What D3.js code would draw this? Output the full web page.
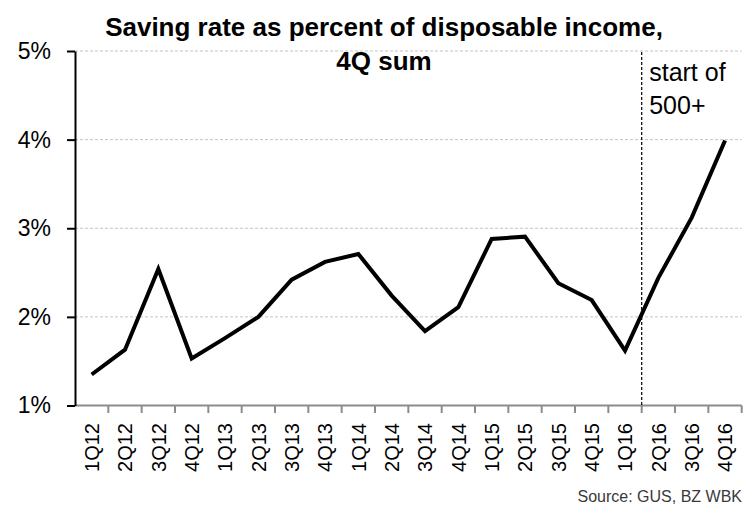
<!DOCTYPE html>
<html>
<head>
<meta charset="utf-8">
<script src="https://cdn.jsdelivr.net/npm/d3@7"></script>
<style>
  body { margin: 0; background: #fff; }
  svg { display: block; font-family: Arial, "Liberation Sans", sans-serif; }
</style>
</head>
<body>
<script>
// quarters on the x axis
const quarters = ['1Q12', '2Q12', '3Q12', '4Q12', '1Q13', '2Q13', '3Q13', '4Q13',
  '1Q14', '2Q14', '3Q14', '4Q14', '1Q15', '2Q15', '3Q15', '4Q15',
  '1Q16', '2Q16', '3Q16', '4Q16']
// saving rate, % of disposable income (4Q sum)
const savingRate = [1.35, 1.63, 2.54, 1.53, 1.76, 2.00, 2.42, 2.62,
  2.71, 2.24, 1.84, 2.11, 2.88, 2.905, 2.38, 2.19,
  1.62, 2.44, 3.12, 3.99]
const yTicks = [1, 2, 3, 4, 5]
const titleLines = ['Saving rate as percent of disposable income,', '4Q sum']
const markerAfter = '1Q16' // "500+" starts after this quarter
const noteLines = ['start of', '500+']
const source = 'Source: GUS, BZ WBK'

;(() => {
  const width = 747,
    height = 507

  const svg = d3.select('body').append('svg')
    .attr('width', width)
    .attr('height', height)

  // plot area
  const x = d3.scaleBand().domain(quarters).range([75, 741.7]).padding(0)
  const y = d3.scaleLinear().domain([1, 5]).range([405.5, 51])

  // dashed gridlines
  svg.selectAll('.grid')
    .data(yTicks.slice(1))
    .enter()
    .append('line')
    .attr('class', 'grid')
    .attr('x1', x.range()[0])
    .attr('x2', x.range()[1])
    .attr('y1', d => y(d))
    .attr('y2', d => y(d))
    .attr('stroke', '#c4c4c4')
    .attr('stroke-width', 1)
    .attr('stroke-dasharray', '3,2')

  // x axis line (grey) with ticks at category boundaries
  const x0 = x.range()[0], x1 = x.range()[1]
  svg.append('line')
    .attr('x1', x0).attr('x2', x1)
    .attr('y1', y(1)).attr('y2', y(1))
    .attr('stroke', '#8c8c8c')
    .attr('stroke-width', 2)

  const bounds = quarters.map(q => x(q)).concat([x1])
  svg.selectAll('.xtick')
    .data(bounds.slice(1))
    .enter()
    .append('line')
    .attr('class', 'xtick')
    .attr('x1', d => d).attr('x2', d => d)
    .attr('y1', y(1)).attr('y2', y(1) + 7.5)
    .attr('stroke', '#8c8c8c')
    .attr('stroke-width', 2)

  // rotated quarter labels
  svg.selectAll('.xlab')
    .data(quarters)
    .enter()
    .append('text')
    .attr('class', 'xlab')
    .attr('transform', d => `translate(${x(d) + x.bandwidth() / 2},423) rotate(-90)`)
    .attr('dy', '0.36em')
    .attr('text-anchor', 'end')
    .attr('font-size', 20)
    .attr('fill', '#000')
    .text(d => d)

  // y axis
  const yAxis = d3.axisLeft(y)
    .tickValues(yTicks)
    .tickSize(8)
    .tickSizeOuter(0)
    .tickPadding(16)
    .tickFormat(d => d + '%')

  const gy = svg.append('g')
    .attr('transform', `translate(${x0},0)`)
    .call(yAxis)
  gy.select('.domain').attr('stroke', '#000').attr('stroke-width', 2)
  gy.selectAll('.tick line').attr('stroke', '#000').attr('stroke-width', 2)
  gy.selectAll('.tick text')
    .attr('font-size', 23)
    .attr('font-family', 'Arial, "Liberation Sans", sans-serif')
    .attr('fill', '#000')

  // dashed marker line for start of 500+
  const mx = x(markerAfter) + x.bandwidth()
  svg.append('line')
    .attr('x1', mx).attr('x2', mx)
    .attr('y1', y(5) + 1).attr('y2', y(1))
    .attr('stroke', '#000')
    .attr('stroke-width', 1.2)
    .attr('stroke-dasharray', '3,2')

  svg.selectAll('.note')
    .data(noteLines)
    .enter()
    .append('text')
    .attr('class', 'note')
    .attr('x', mx + 7.5)
    .attr('y', (d, i) => 80.5 + i * 33)
    .attr('font-size', 25)
    .attr('fill', '#000')
    .text(d => d)

  // saving rate line
  const line = d3.line()
    .x((d, i) => x(quarters[i]) + x.bandwidth() / 2)
    .y(d => y(d))

  svg.append('path')
    .datum(savingRate)
    .attr('d', line)
    .attr('fill', 'none')
    .attr('stroke', '#000')
    .attr('stroke-width', 4)
    .attr('stroke-linejoin', 'miter')

  // title
  svg.selectAll('.title')
    .data(titleLines)
    .enter()
    .append('text')
    .attr('class', 'title')
    .attr('x', 384)
    .attr('y', (d, i) => 36 + i * 34)
    .attr('text-anchor', 'middle')
    .attr('font-size', 26)
    .attr('font-weight', 'bold')
    .attr('fill', '#000')
    .text(d => d)

  // source note
  svg.append('text')
    .attr('x', 742)
    .attr('y', 502)
    .attr('text-anchor', 'end')
    .attr('font-size', 16)
    .attr('fill', '#3a3a3a')
    .text(source)
})()
</script>
</body>
</html>
